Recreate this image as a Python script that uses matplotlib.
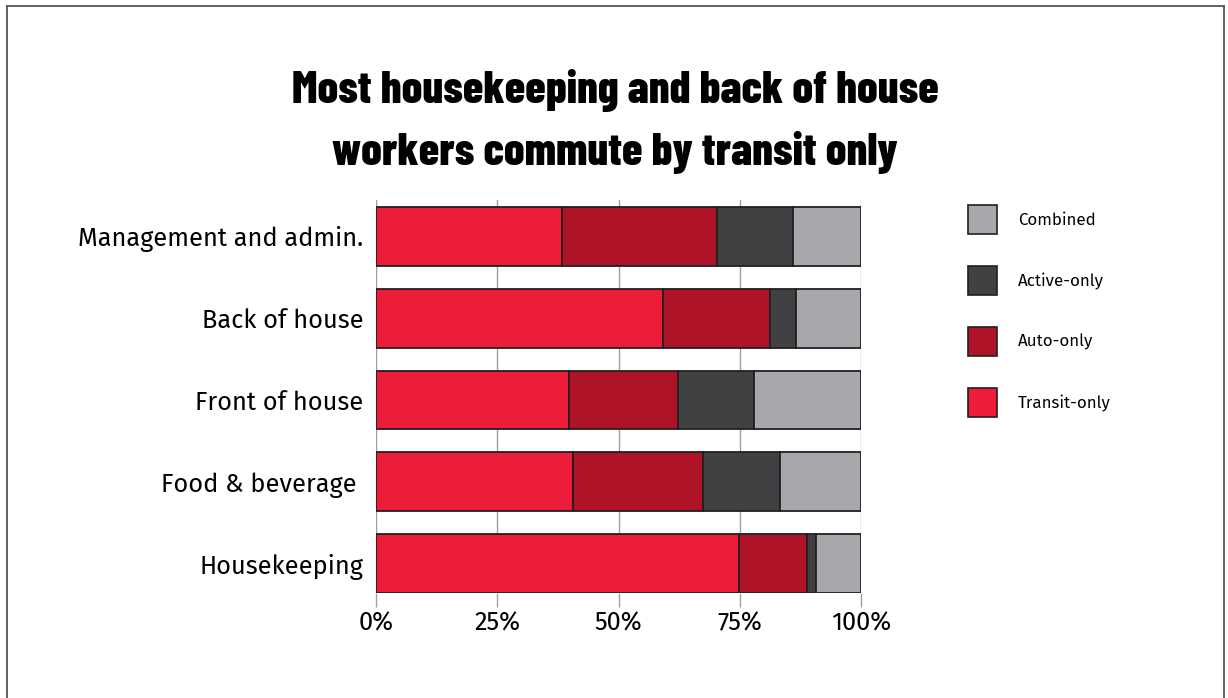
import matplotlib

matplotlib.use("Agg")
import matplotlib.pyplot as plt
from matplotlib.patches import Rectangle

# data (percent of workers)
categories = ["Management and admin.", "Back of house", "Front of house", "Food & beverage ", "Housekeeping"]
modes = ["Transit-only", "Auto-only", "Active-only", "Combined"]
transit_only = [38.3, 59.1, 39.8, 40.7, 74.8]
auto_only = [32.0, 22.1, 22.4, 26.8, 14.0]
active_only = [15.6, 5.5, 15.8, 15.8, 2.0]
combined = [14.1, 13.3, 22.0, 16.7, 9.2]
xticks = [0, 25, 50, 75, 100]
xtick_labels = ["0%", "25%", "50%", "75%", "100%"]

COLORS = ["#ED1C39", "#AF1328", "#414042", "#A7A8AB"]
EDGE = "#231F20"
LABEL_FONT = ["Fira Sans", "Open Sans", "DejaVu Sans"]

W, H = 1228, 698
fig = plt.figure(figsize=(W / 100, H / 100), dpi=100)

ax = fig.add_axes([376 / W, 1 - 593 / H, 485 / W, 393 / H])
series = [transit_only, auto_only, active_only, combined]
ypos = list(range(len(categories)))
left = [0.0] * len(categories)
for vals, color in zip(series, COLORS):
    ax.barh(ypos, vals, left=left, height=0.72, color=color, edgecolor=EDGE, linewidth=1.3, zorder=3)
    left = [a + b for a, b in zip(left, vals)]

ax.set_xlim(0, 100)
ax.set_ylim(4.36, -0.446)
for s in ax.spines.values():
    s.set_visible(False)
ax.set_xticks(xticks)
ax.set_xticklabels(xtick_labels, fontsize=18.2, family=LABEL_FONT)
ax.tick_params(axis="x", length=10, width=1, color="#A0A0A0", pad=3)
ax.set_yticks(ypos)
ax.set_yticklabels(categories, fontsize=18.3, family=LABEL_FONT)
ax.tick_params(axis="y", length=0, pad=9)
ax.grid(axis="x", color="#A0A0A0", linewidth=1, zorder=0)
ax.set_axisbelow(True)

# title
fig.text(615 / W, 1 - 90 / H, "Most housekeeping and back of house", ha="center", va="center",
         fontsize=33, family="Barlow Condensed", fontweight=800, color="black")
fig.text(615 / W, 1 - 152 / H, "workers commute by transit only", ha="center", va="center",
         fontsize=33, family="Barlow Condensed", fontweight=800, color="black")

# legend, top to bottom: Combined, Active-only, Auto-only, Transit-only
for i, (name, color) in enumerate(zip(modes[::-1], COLORS[::-1])):
    y_top = 205 + i * 61
    fig.patches.append(Rectangle((968 / W, 1 - (y_top + 29) / H), 29 / W, 29 / H, transform=fig.transFigure,
                                 facecolor=color, edgecolor=EDGE, linewidth=1.2))
    fig.text(1018 / W, 1 - (y_top + 15) / H, name, ha="left", va="center", fontsize=12.2, family=LABEL_FONT)

# outer frame (bottom edge open)
for xs, ys in [([6.5, 6.5], [698, 6]), ([6.5, 1223.5], [6, 6]), ([1223.5, 1223.5], [6, 698])]:
    fig.add_artist(plt.Line2D([x / W for x in xs], [1 - y / H for y in ys], color="#555555", linewidth=1.3,
                              transform=fig.transFigure))

fig.savefig("out.png", dpi=100, facecolor="white")
plt.close(fig)
